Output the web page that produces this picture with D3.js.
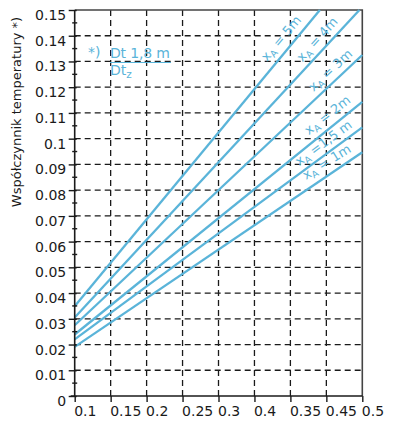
<!DOCTYPE html>
<html>
<head>
<meta charset="utf-8">
<script src="https://cdn.jsdelivr.net/npm/d3@7"></script>
<style>
  html, body { margin: 0; padding: 0; background: #fff; }
  svg { display: block; }
</style>
</head>
<body>
<svg id="chart" width="411" height="422"></svg>
<script>
// ---- data ----
const xTickValues = [0.1, 0.15, 0.2, 0.25, 0.3, 0.35, 0.4, 0.45, 0.5];
const xTickLabels = ["0.1", "0.15", "0.2", "0.25", "0.3", "0.4", "0.35", "0.45", "0.5"];
const yTickValues = [0, 0.01, 0.02, 0.03, 0.04, 0.05, 0.06, 0.07, 0.08, 0.09, 0.1, 0.11, 0.12, 0.13, 0.14, 0.15];
const yTickLabels = ["0", "0.01", "0.02", "0.03", "0.04", "0.05", "0.06", "0.07", "0.08", "0.09", "0.1", "0.11", "0.12", "0.13", "0.14", "0.15"];
const seriesNames = ["5m", "4m", "3m", "2m", "1,5 m", "1m"];
const seriesX = [
  [0.1, 0.441],
  [0.1, 0.496],
  [0.1, 0.5],
  [0.1, 0.5],
  [0.1, 0.5],
  [0.1, 0.5]
];
const seriesY = [
  [0.0349, 0.15],
  [0.0305, 0.15],
  [0.0275, 0.1325],
  [0.0239, 0.1143],
  [0.0220, 0.1044],
  [0.0191, 0.0947]
];
const yTitle = "Współczynnik temperatury *)";

// ---- layout ----
const svg = d3.select("#chart");
const x = d3.scaleLinear().domain([0.1, 0.5]).range([74.7, 362.3]);
const y = d3.scaleLinear().domain([0, 0.15]).range([396, 10]);
const blue = "#5ab4d9";
const ink = "#1a1a1a";
const font = "DejaVu Sans, sans-serif";

// gridlines
const grid = svg.append("g").attr("stroke", ink).attr("stroke-width", 1.3)
  .attr("stroke-dasharray", "6,4").attr("fill", "none");
grid.selectAll("line.h").data(yTickValues.filter(v => v > 0 && v < 0.15))
  .join("line").attr("class", "h")
  .attr("x1", x(0.1)).attr("x2", x(0.5))
  .attr("y1", d => y(d)).attr("y2", d => y(d));
grid.selectAll("line.v").data(xTickValues.filter(v => v > 0.1 && v < 0.5))
  .join("line").attr("class", "v")
  .attr("x1", d => x(d)).attr("x2", d => x(d))
  .attr("y1", y(0.15)).attr("y2", y(0));

// frame top/right
svg.append("path")
  .attr("d", `M${x(0.1)},${y(0.15)}H${x(0.5)}V${y(0)}`)
  .attr("fill", "none").attr("stroke", "#444").attr("stroke-width", 1.6);

// series lines
const line = d3.line().x(d => x(d[0])).y(d => y(d[1]));
const seriesData = seriesNames.map((n, i) => seriesX[i].map((xv, j) => [xv, seriesY[i][j]]));
svg.append("g").selectAll("path").data(seriesData).join("path")
  .attr("d", line).attr("fill", "none").attr("stroke", blue).attr("stroke-width", 2.3);

// y axis (custom ticks)
const yAxis = d3.axisLeft(y).tickValues(yTickValues)
  .tickFormat((d, i) => yTickLabels[i]).tickSize(6).tickPadding(3);
const gy = svg.append("g").attr("transform", `translate(${x(0.1)},0)`).call(yAxis);
gy.select(".domain").attr("stroke", ink).attr("stroke-width", 1.6).attr("d", `M0,${y(0.15)}V${y(0)}`);
gy.selectAll(".tick line").attr("stroke", ink).attr("stroke-width", 1.4).attr("x2", -6).attr("x1", 2);
gy.selectAll(".tick text").attr("fill", ink).attr("font-family", font)
  .attr("font-size", 14).attr("dy", "0.32em").attr("y", 5).attr("x", -8.5);
// minor ticks
const minor = d3.range(0.005, 0.15, 0.01);
svg.append("g").selectAll("line").data(minor).join("line")
  .attr("x1", x(0.1) - 2.5).attr("x2", x(0.1) + 2.5)
  .attr("y1", d => y(d)).attr("y2", d => y(d))
  .attr("stroke", ink).attr("stroke-width", 1.4);

// x axis
const xAxis = d3.axisBottom(x).tickValues(xTickValues)
  .tickFormat((d, i) => xTickLabels[i]).tickSize(6).tickPadding(3);
const gx = svg.append("g").attr("transform", `translate(0,${y(0)})`).call(xAxis);
gx.select(".domain").attr("stroke", ink).attr("stroke-width", 1.6).attr("d", `M${x(0.1) - 4},0H${x(0.5)}`);
gx.selectAll(".tick line").attr("stroke", ink).attr("stroke-width", 1.4);
gx.selectAll(".tick text").attr("fill", ink).attr("font-family", font)
  .attr("font-size", 14).attr("text-anchor", "start").attr("x", -1).attr("y", 10);

// y title
svg.append("text")
  .attr("transform", "translate(21,112) rotate(-90)")
  .attr("text-anchor", "middle")
  .attr("font-family", font).attr("font-size", 13).attr("fill", ink)
  .text(yTitle);

// series labels (rotated, above-left of each line)
const labelPos = [
  { cx: 283, cy: 40, a: -50 },
  { cx: 319, cy: 41, a: -48 },
  { cx: 332, cy: 72, a: -43 },
  { cx: 329, cy: 117, a: -38 },
  { cx: 325, cy: 145, a: -36.5 },
  { cx: 328, cy: 164, a: -32 }
];
const labels = svg.append("g").attr("fill", blue)
  .attr("font-family", font).attr("font-size", 13);
seriesNames.forEach((n, i) => {
  const p = labelPos[i];
  const r = p.a * Math.PI / 180;
  const off = 2; // perpendicular offset away from line
  const ox = p.cx + off * Math.sin(r);
  const oy = p.cy - off * Math.cos(r);
  const t = labels.append("text")
    .attr("transform", `translate(${ox},${oy}) rotate(${p.a})`)
    .attr("text-anchor", "middle").attr("dy", "0.3em");
  t.append("tspan").text("x");
  t.append("tspan").attr("font-size", 9.5).attr("dy", 3).text("A");
  t.append("tspan").attr("dy", -3).text(n === "1,5 m" ? " =1,5 m" : " = " + n);
});

// annotation
const ann = svg.append("g").attr("fill", blue)
  .attr("font-family", font).attr("font-size", 14);
ann.append("text").attr("x", 88).attr("y", 57).text("*)");
ann.append("text").attr("x", 110).attr("y", 58).attr("textLength", 60).text("Dt 1,8 m");
ann.append("line").attr("x1", 110).attr("x2", 171).attr("y1", 62.5).attr("y2", 62.5)
  .attr("stroke", blue).attr("stroke-width", 1.2);
const dtz = ann.append("text").attr("x", 110).attr("y", 75);
dtz.append("tspan").text("Dt");
dtz.append("tspan").attr("font-size", 10.5).attr("dy", 3).text("z");
</script>
</body>
</html>
